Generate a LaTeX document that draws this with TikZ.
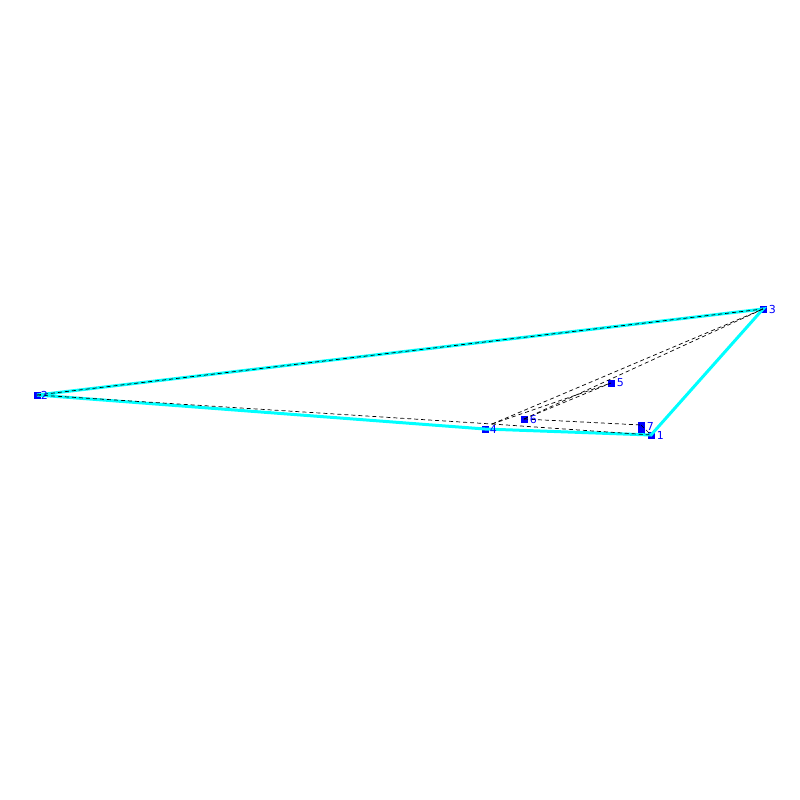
\documentclass[tikz,border=0pt]{standalone}
\usepackage{fontspec}
\setmainfont{DejaVu Sans}
\definecolor{hullcyan}{RGB}{0,255,255}
\begin{document}
\begin{tikzpicture}[x=1pt,y=-1pt,
  pt/.style={fill=blue,inner sep=0pt,minimum size=7pt,draw=none},
  lab/.style={text=blue,font=\fontsize{11}{11}\selectfont,inner sep=1pt,anchor=west},
  hull/.style={draw=hullcyan,line width=3pt},
  tri/.style={draw=black,line width=0.7pt,dash pattern=on 4pt off 3pt}]
\useasboundingbox (0,0) rectangle (800,800);
\node[pt] (p1) at (651,435) {};
\node[pt] (p2) at (37,395) {};
\node[pt] (p3) at (763,309) {};
\node[pt] (p4) at (485,429) {};
\node[pt] (p5) at (611,383) {};
\node[pt] (p6) at (524,419) {};
\node[pt] (p7) at (641,425) {};
\node[pt] (p8) at (641,430) {};
\draw[hull] (p2.center) -- (p3.center) -- (p1.center) -- (p4.center) -- (p2.center);
\coordinate (q4) at (492,424);
\draw[tri] (p2.center) -- (p3.center);
\draw[tri] (p2.center) -- (q4);
\draw[tri] (q4) -- (p3.center);
\draw[tri] (q4) -- (p5.center);
\draw[tri] (p6.center) -- (p3.center);
\draw[tri] (p6.center) -- (p5.center);
\draw[tri] (p6.center) -- (p7.center);
\draw[tri] (q4) -- (p1.center);
\draw[tri] (p7.center) -- (p1.center);
\node[lab] (l1) at ([xshift=1pt]p1.east) {1};
\node[lab] (l2) at ([xshift=-1pt]p2.east) {2};
\node[lab] (l3) at ([xshift=1pt]p3.east) {3};
\node[lab] (l4) at ([xshift=0pt]p4.east) {4};
\node[lab] (l5) at ([xshift=1pt]p5.east) {5};
\node[lab] (l6) at ([xshift=1pt]p6.east) {6};
\node[lab] (l7) at ([xshift=1pt,yshift=-1pt]p7.east) {7};
\end{tikzpicture}
\end{document}
